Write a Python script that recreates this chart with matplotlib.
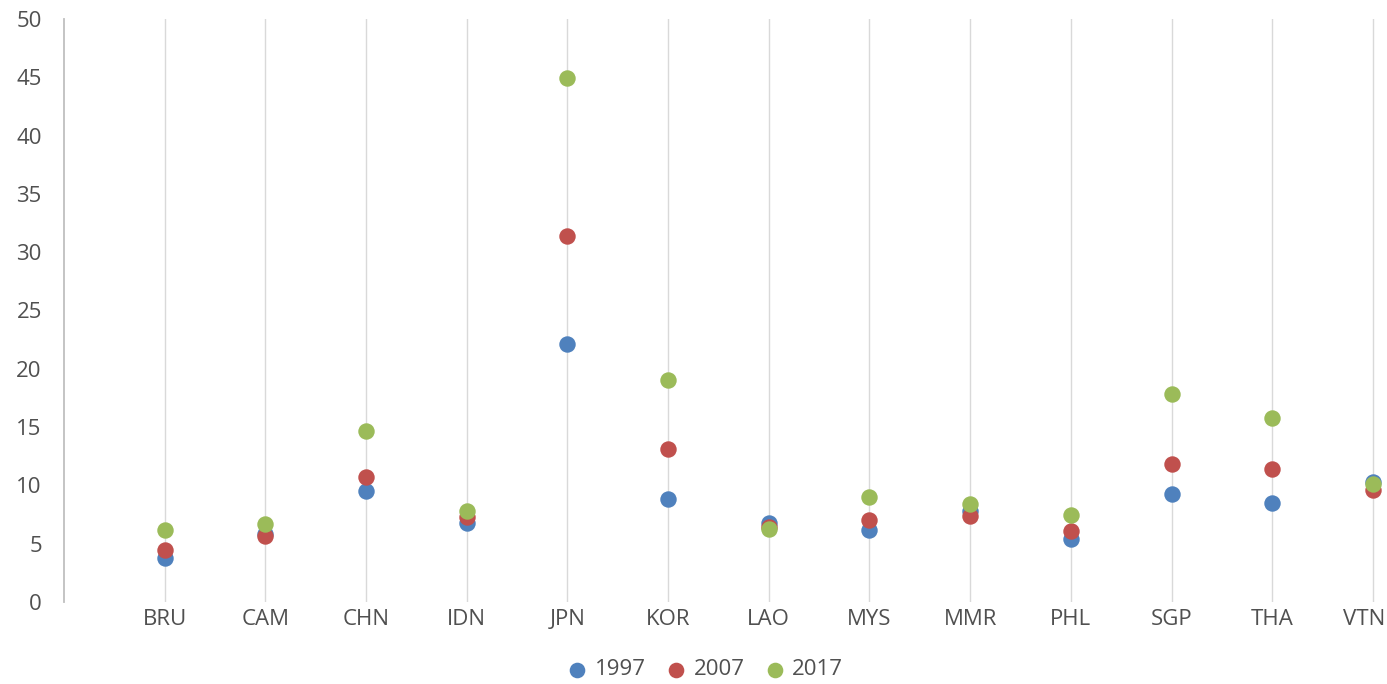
import numpy as np
import matplotlib.pyplot as plt
from matplotlib.transforms import ScaledTranslation

# data
countries = ['BRU', 'CAM', 'CHN', 'IDN', 'JPN', 'KOR', 'LAO', 'MYS',
             'MMR', 'PHL', 'SGP', 'THA', 'VTN']
y1997 = [3.8, 5.8, 9.5, 6.8, 22.1, 8.8, 6.75, 6.2, 7.8, 5.4, 9.3, 8.5, 10.3]
y2007 = [4.5, 5.7, 10.7, 7.3, 31.4, 13.1, 6.4, 7.0, 7.4, 6.1, 11.8, 11.4, 9.6]
y2017 = [6.2, 6.7, 14.7, 7.8, 44.9, 19.0, 6.3, 9.0, 8.4, 7.45, 17.8, 15.8, 10.1]

series = [('1997', y1997, '#4F81BD'),
          ('2007', y2007, '#C0504D'),
          ('2017', y2017, '#9BBB59')]

plt.rcParams['font.family'] = ['Open Sans', 'DejaVu Sans']
text_col = '#505050'

fig = plt.figure(figsize=(13.87, 6.84), dpi=100)
ax = fig.add_axes([64 / 1387, 82 / 684, 1 - 64 / 1387, (602 - 19) / 684])

x = np.arange(1, len(countries) + 1)
ax.set_xticks(x)
ax.set_xticklabels(countries)
ax.grid(axis='x', color='#D9D9D9', linewidth=1.0, zorder=0)

for label, vals, col in series:
    ax.scatter(x, vals, s=140, color=col, label=label, zorder=3, linewidths=0)

ax.set_xlim(0, 13.14)
ax.set_ylim(0, 50)
ax.set_yticks(np.arange(0, 51, 5))

for side in ['top', 'right', 'bottom']:
    ax.spines[side].set_visible(False)
ax.spines['left'].set_color('#BFBFBF')
ax.spines['left'].set_linewidth(1.3)

ax.tick_params(axis='both', length=0, labelsize=16, colors=text_col)
ax.tick_params(axis='y', pad=16)
ax.tick_params(axis='x', pad=5)

# keep the last category label inside the figure, as in the reference
last = ax.get_xticklabels()[-1]
last.set_ha('right')
last.set_transform(last.get_transform() + ScaledTranslation(0.12, 0, fig.dpi_scale_trans))

fig.legend(loc='lower center', bbox_to_anchor=(0.508, -0.024), ncol=3,
           frameon=False, fontsize=16, labelcolor=text_col,
           handlelength=1.0, handletextpad=0.3, columnspacing=0.85,
           markerscale=0.95)

fig.savefig('out.png', dpi=100)
